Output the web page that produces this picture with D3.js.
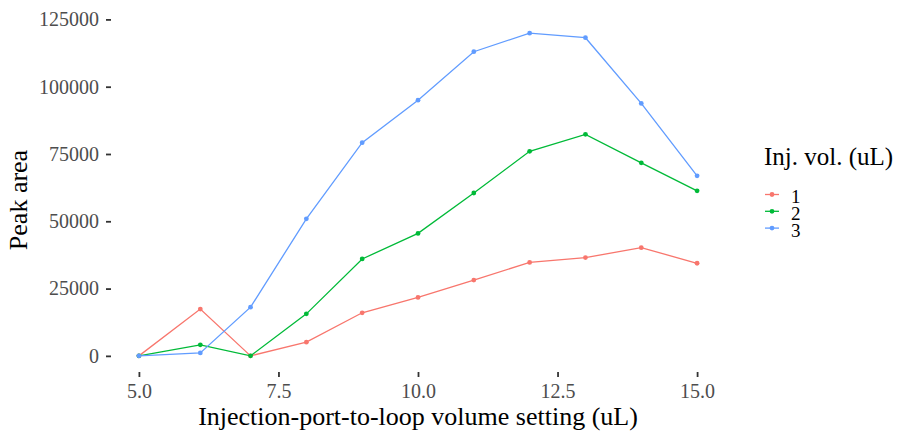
<!DOCTYPE html>
<html>
<head>
<meta charset="utf-8">
<script src="https://cdn.jsdelivr.net/npm/d3@7"></script>
<style>
  body { margin: 0; background: #fff; }
  svg text { font-family: "Liberation Serif", "DejaVu Serif", serif; }
</style>
</head>
<body>
<div id="chart"></div>
<script>
var svgWidth = 897;
var svgHeight = 431;

// panel edges
var leftMargin = 111;
var rightMargin = 172;
var topMargin = 17;
var bottomMargin = 59;

var chartWidth = svgWidth - leftMargin - rightMargin;
var chartHeight = svgHeight - topMargin - bottomMargin;

var volumes = [5, 6.1, 7, 8, 9, 10, 11, 12, 13, 14, 15];
var series1 = [0, 17400, 0, 5100, 16000, 21700, 28150, 34700, 36500, 40200, 34400];
var series2 = [0, 4100, 0, 15600, 36000, 45500, 60500, 76000, 82300, 71700, 61300];
var series3 = [0, 1100, 18100, 50900, 79200, 95000, 113000, 119900, 118200, 93800, 66900];

var groups = ['1', '2', '3'];
var colors = ['#F8766D', '#00BA38', '#619CFF'];
var xTicks = [5, 7.5, 10, 12.5, 15];
var yTicks = [0, 25000, 50000, 75000, 100000, 125000];

var allSeries = [series1, series2, series3];

var svg = d3.select("#chart")
    .append("svg")
    .attr("width", svgWidth)
    .attr("height", svgHeight);

var chart = svg.append("g")
    .attr("transform", `translate(${leftMargin}, ${topMargin})`);

var xScale = d3.scaleLinear()
    .domain([4.5, 15.5])
    .range([0, chartWidth]);

var yMax = d3.max(allSeries, s => d3.max(s));
var yScale = d3.scaleLinear()
    .domain([-0.05 * yMax, yMax * 1.05])
    .range([chartHeight, 0]);

var xAxis = d3.axisBottom(xScale)
    .tickValues(xTicks)
    .tickFormat(d3.format(".1f"))
    .tickSize(5)
    .tickPadding(7);
var yAxis = d3.axisLeft(yScale)
    .tickValues(yTicks)
    .tickFormat(d3.format("d"))
    .tickSize(5)
    .tickPadding(7);

var gx = chart.append("g")
    .attr("transform", `translate(0, ${chartHeight})`)
    .call(xAxis);
var gy = chart.append("g")
    .call(yAxis);

[gx, gy].forEach(function(g) {
    g.select('.domain').remove();
    g.selectAll('.tick line').attr('stroke', '#333333').attr('stroke-width', 1.8);
    g.selectAll('.tick text')
        .attr('fill', '#4D4D4D')
        .style('font-size', '20px');
});

chart.append("text")
    .attr("x", chartWidth / 2)
    .attr("y", chartHeight + 53)
    .attr('text-anchor', 'middle')
    .style('font-size', '26px')
    .attr('fill', '#000')
    .text("Injection-port-to-loop volume setting (uL)");

chart.append("text")
    .attr("transform", "rotate(-90)")
    .attr("x", -(200 - topMargin))
    .attr("y", 27 - leftMargin)
    .attr('text-anchor', 'middle')
    .style('font-size', '26px')
    .attr('fill', '#000')
    .text("Peak area");

var line = d3.line()
    .x((d, i) => xScale(volumes[i]))
    .y(d => yScale(d));

allSeries.forEach(function(s, k) {
    chart.append('path')
        .datum(s)
        .attr('d', line)
        .attr('fill', 'none')
        .attr('stroke', colors[k])
        .attr('stroke-width', 1.3);

    chart.append('g')
        .selectAll('circle')
        .data(s)
        .enter()
        .append('circle')
        .attr('cx', (d, i) => xScale(volumes[i]))
        .attr('cy', d => yScale(d))
        .attr('r', 2.4)
        .attr('fill', colors[k]);
});

// legend
var legend = svg.append('g')
    .attr('transform', 'translate(764, 0)');

legend.append('text')
    .attr('x', 0)
    .attr('y', 165)
    .style('font-size', '25px')
    .text("Inj. vol. (uL)");

var items = legend.selectAll('.item')
    .data(groups)
    .enter()
    .append('g')
    .attr('class', 'item')
    .attr('transform', (d, i) => `translate(0, ${194.5 + i * 16.8})`);

items.append('line')
    .attr('x1', 1).attr('x2', 15)
    .attr('y1', 0).attr('y2', 0)
    .attr('stroke', (d, i) => colors[i])
    .attr('stroke-width', 1.3);

items.append('circle')
    .attr('cx', 8)
    .attr('cy', 0)
    .attr('r', 2.4)
    .attr('fill', (d, i) => colors[i]);

items.append('text')
    .attr('x', 27)
    .attr('y', 8.5)
    .style('font-size', '19px')
    .text(d => d);
</script>
</body>
</html>
